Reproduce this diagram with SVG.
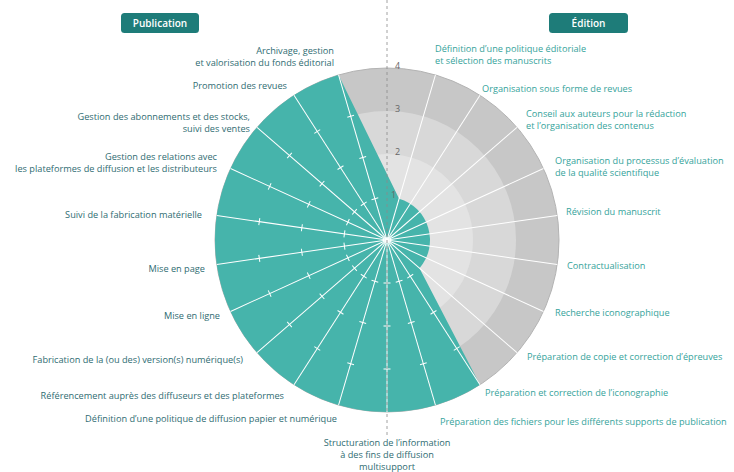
<svg xmlns="http://www.w3.org/2000/svg" xmlns:xlink="http://www.w3.org/1999/xlink" width="734" height="472" viewBox="0 0 734 472">
  <style>
    .lbl { font-family: "Open Sans", "Noto Sans", "Liberation Sans", sans-serif; font-size: 9.2px; }
    .pub { fill: #2f6c72; text-anchor: end; }
    .edi { fill: #35a39b; text-anchor: start; }
    .mid { fill: #2f6c72; text-anchor: middle; }
    .lvl { font-family: "Open Sans", "Liberation Sans", sans-serif; font-size: 9px; fill: #666; }
    .hdr { font-family: "Open Sans", "Liberation Sans", sans-serif; font-size: 10px; font-weight: 600; fill: #ffffff; text-anchor: middle; }
    .spoke { stroke: #ffffff; stroke-width: 1; }
    .tick { stroke: #ffffff; stroke-width: 1; }
  </style>
  <defs>
    <line id="spoke" class="spoke" x1="387" y1="240" x2="387" y2="68"/>
    <g id="ticks">
      <line class="tick" x1="383.5" y1="197" x2="390.5" y2="197"/>
      <line class="tick" x1="383.5" y1="154" x2="390.5" y2="154"/>
      <line class="tick" x1="383.5" y1="111" x2="390.5" y2="111"/>
    </g>
  </defs>
  <rect width="734" height="472" fill="#ffffff"/>

  <!-- background rings -->
  <g id="grid">
    <circle cx="387" cy="240" r="172" fill="#c7c7c7" stroke="#b3b3b3" stroke-width="1"/>
    <circle cx="387" cy="240" r="129" fill="#d8d8d8"/>
    <circle cx="387" cy="240" r="86" fill="#e3e3e3"/>
    <circle cx="387" cy="240" r="43" fill="#ebebeb"/>
  </g>

  <!-- data area -->
  <g id="area">
    <path d="M399.11,198.74 A43,43 0 0 1 419.50,268.16 L479.99,384.70 A172,172 0 1 1 338.54,74.97 Z" fill="#46b4ab"/>
  </g>

  <!-- spokes -->
  <g id="spokes">
    <use xlink:href="#spoke" transform="rotate(16.364 387 240)"/>
    <use xlink:href="#spoke" transform="rotate(32.727 387 240)"/>
    <use xlink:href="#spoke" transform="rotate(49.091 387 240)"/>
    <use xlink:href="#spoke" transform="rotate(65.455 387 240)"/>
    <use xlink:href="#spoke" transform="rotate(81.818 387 240)"/>
    <use xlink:href="#spoke" transform="rotate(98.182 387 240)"/>
    <use xlink:href="#spoke" transform="rotate(114.545 387 240)"/>
    <use xlink:href="#spoke" transform="rotate(130.909 387 240)"/>
    <use xlink:href="#spoke" transform="rotate(147.273 387 240)"/>
    <use xlink:href="#spoke" transform="rotate(163.636 387 240)"/>
    <use xlink:href="#spoke" transform="rotate(180 387 240)"/>
    <use xlink:href="#spoke" transform="rotate(196.364 387 240)"/>
    <use xlink:href="#spoke" transform="rotate(212.727 387 240)"/>
    <use xlink:href="#spoke" transform="rotate(229.091 387 240)"/>
    <use xlink:href="#spoke" transform="rotate(245.455 387 240)"/>
    <use xlink:href="#spoke" transform="rotate(261.818 387 240)"/>
    <use xlink:href="#spoke" transform="rotate(278.182 387 240)"/>
    <use xlink:href="#spoke" transform="rotate(294.545 387 240)"/>
    <use xlink:href="#spoke" transform="rotate(310.909 387 240)"/>
    <use xlink:href="#spoke" transform="rotate(327.273 387 240)"/>
    <use xlink:href="#spoke" transform="rotate(343.636 387 240)"/>
  </g>

  <!-- ticks on full-value axes -->
  <g id="tickmarks">
    <use xlink:href="#ticks" transform="rotate(147.273 387 240)"/>
    <use xlink:href="#ticks" transform="rotate(163.636 387 240)"/>
    <use xlink:href="#ticks" transform="rotate(180 387 240)"/>
    <use xlink:href="#ticks" transform="rotate(196.364 387 240)"/>
    <use xlink:href="#ticks" transform="rotate(212.727 387 240)"/>
    <use xlink:href="#ticks" transform="rotate(229.091 387 240)"/>
    <use xlink:href="#ticks" transform="rotate(245.455 387 240)"/>
    <use xlink:href="#ticks" transform="rotate(261.818 387 240)"/>
    <use xlink:href="#ticks" transform="rotate(278.182 387 240)"/>
    <use xlink:href="#ticks" transform="rotate(294.545 387 240)"/>
    <use xlink:href="#ticks" transform="rotate(310.909 387 240)"/>
    <use xlink:href="#ticks" transform="rotate(327.273 387 240)"/>
    <use xlink:href="#ticks" transform="rotate(343.636 387 240)"/>
  </g>

  <!-- separator -->
  <line id="separator" x1="387" y1="0" x2="387" y2="437" stroke="#8c8c8c" stroke-width="0.8" stroke-dasharray="3,3"/>

  <!-- level numbers -->
  <g id="levels">
    <text class="lvl" x="395" y="69">4</text>
    <text class="lvl" x="395" y="112">3</text>
    <text class="lvl" x="395" y="155">2</text>
    <text class="lvl" x="391" y="198">1</text>
  </g>

  <!-- headers -->
  <g id="hdr-publication">
    <rect x="121" y="13" width="78" height="20" rx="3.5" fill="#1e7c79"/>
    <text class="hdr" x="160" y="26.5">Publication</text>
  </g>
  <g id="hdr-edition">
    <rect x="549" y="13" width="79" height="20" rx="3.5" fill="#1e7c79"/>
    <text class="hdr" x="588.5" y="26.5">Édition</text>
  </g>

  <!-- Publication labels -->
  <g id="pub-labels" class="lbl">
    <text class="pub" x="334" y="54">Archivage, gestion</text>
    <text class="pub" x="334" y="66">et valorisation du fonds éditorial</text>
    <text class="pub" x="287" y="89">Promotion des revues</text>
    <text class="pub" x="250" y="120">Gestion des abonnements et des stocks,</text>
    <text class="pub" x="250" y="132">suivi des ventes</text>
    <text class="pub" x="217" y="160">Gestion des relations avec</text>
    <text class="pub" x="217" y="172">les plateformes de diffusion et les distributeurs</text>
    <text class="pub" x="202" y="218">Suivi de la fabrication matérielle</text>
    <text class="pub" x="205" y="272">Mise en page</text>
    <text class="pub" x="220" y="319">Mise en ligne</text>
    <text class="pub" x="243" y="363">Fabrication de la (ou des) version(s) numérique(s)</text>
    <text class="pub" x="284" y="399">Référencement auprès des diffuseurs et des plateformes</text>
    <text class="pub" x="337" y="422">Définition d’une politique de diffusion papier et numérique</text>
    <text class="mid" x="387" y="446">Structuration de l’information</text>
    <text class="mid" x="387" y="458">à des fins de diffusion</text>
    <text class="mid" x="387" y="470">multisupport</text>
  </g>

  <!-- Édition labels -->
  <g id="edi-labels" class="lbl">
    <text class="edi" x="435" y="52">Définition d’une politique éditoriale</text>
    <text class="edi" x="435" y="64">et sélection des manuscrits</text>
    <text class="edi" x="482" y="92">Organisation sous forme de revues</text>
    <text class="edi" x="526" y="117">Conseil aux auteurs pour la rédaction</text>
    <text class="edi" x="526" y="129">et l’organisation des contenus</text>
    <text class="edi" x="555" y="164">Organisation du processus d’évaluation</text>
    <text class="edi" x="555" y="176">de la qualité scientifique</text>
    <text class="edi" x="566" y="215">Révision du manuscrit</text>
    <text class="edi" x="567" y="269">Contractualisation</text>
    <text class="edi" x="555" y="316">Recherche iconographique</text>
    <text class="edi" x="527" y="360">Préparation de copie et correction d’épreuves</text>
    <text class="edi" x="485" y="396">Préparation et correction de l’iconographie</text>
    <text class="edi" x="440" y="425">Préparation des fichiers pour les différents supports de publication</text>
  </g>
</svg>
